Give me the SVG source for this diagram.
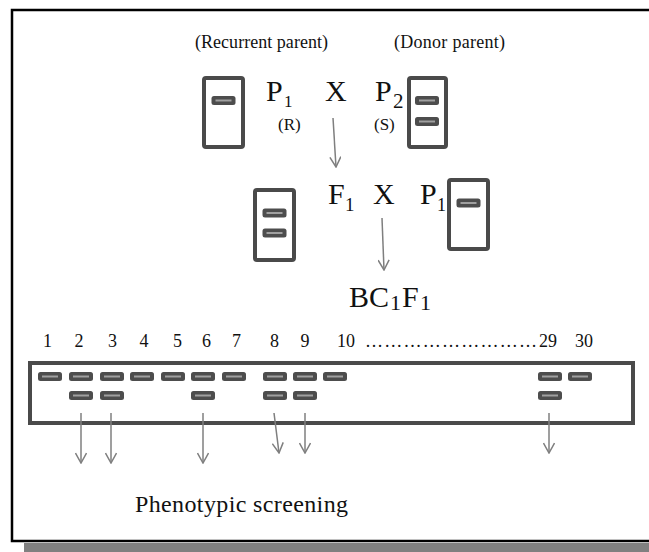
<svg xmlns="http://www.w3.org/2000/svg" xmlns:xlink="http://www.w3.org/1999/xlink" width="649" height="552" viewBox="0 0 649 552">
<style>
  text { font-family: "Liberation Serif", "Times New Roman", serif; fill: #111; }
  .box { fill: #fff; stroke: #4a4a4a; stroke-width: 4; }
  .big { font-size: 30px; }
  .lab { font-size: 18px; }
  .small { font-size: 17px; }
  .num { font-size: 18px; text-anchor: middle; }
  .arr { fill: none; stroke: #7f7f7f; stroke-width: 1.5; marker-end: url(#ah); }
</style>
<defs>
  <marker id="ah" viewBox="0 0 12 12" refX="11" refY="6" markerWidth="12" markerHeight="12" markerUnits="userSpaceOnUse" orient="auto">
    <path d="M1,0.5 L11,6 L1,11.5" fill="none" stroke="#7f7f7f" stroke-width="1.5"/>
  </marker>
  <g id="band">
    <rect x="-12" y="-4.5" width="24" height="9" rx="2.5" fill="#4d4d4d"/>
    <rect x="-8" y="-1" width="16" height="2" fill="#a0a0a0"/>
  </g>
</defs>

<!-- frame with shadow -->
<rect x="24" y="543" width="625" height="9" fill="#808080"/>
<rect x="12" y="10" width="645" height="531" fill="#fff" stroke="#000" stroke-width="2.5"/>

<!-- labels top -->
<g id="labels-top">
  <text class="lab" x="195" y="48" textLength="133" lengthAdjust="spacing">(Recurrent parent)</text>
  <text class="lab" x="394" y="48" textLength="111" lengthAdjust="spacing">(Donor parent)</text>
</g>

<!-- parents -->
<g id="p1-gel">
  <rect class="box" x="204" y="78" width="39" height="69" rx="2"/>
  <use xlink:href="#band" x="223.5" y="100.5"/>
</g>
<g id="p2-gel">
  <rect class="box" x="409" y="78" width="37" height="69" rx="2"/>
  <use xlink:href="#band" x="427" y="100.5"/>
  <use xlink:href="#band" x="427" y="121.5"/>
</g>
<g id="cross1">
  <text class="big" x="266" y="101">P</text>
  <text x="284" y="107" font-size="17">1</text>
  <text class="big" x="325" y="101">X</text>
  <text class="big" x="375" y="101">P</text>
  <text x="393" y="108" font-size="21">2</text>
  <text class="small" x="278" y="130">(R)</text>
  <text class="small" x="374" y="130">(S)</text>
</g>

<!-- F1 cross -->
<g id="f1-gel">
  <rect class="box" x="255" y="190" width="39" height="70" rx="2"/>
  <use xlink:href="#band" x="274.5" y="213"/>
  <use xlink:href="#band" x="274.5" y="233"/>
</g>
<g id="p1b-gel">
  <rect class="box" x="449" y="180" width="39" height="69" rx="2"/>
  <use xlink:href="#band" x="468.5" y="203"/>
</g>
<g id="cross2">
  <text class="big" x="328" y="204">F</text>
  <text x="345" y="211" font-size="19">1</text>
  <text class="big" x="373" y="204">X</text>
  <text class="big" x="420" y="204">P</text>
  <text x="437" y="211" font-size="18">1</text>
</g>

<g id="bc1f1">
  <text font-size="30"><tspan x="349" y="307">BC</tspan><tspan x="390" y="310" font-size="22">1</tspan><tspan x="402" y="307">F</tspan><tspan x="420" y="310" font-size="22">1</tspan></text>
</g>

<!-- lane numbers -->
<g id="lane-numbers">
  <text class="num" x="47.5" y="347">1</text>
  <text class="num" x="79" y="347">2</text>
  <text class="num" x="112.5" y="347">3</text>
  <text class="num" x="144" y="347">4</text>
  <text class="num" x="177.5" y="347">5</text>
  <text class="num" x="206.5" y="347">6</text>
  <text class="num" x="236.5" y="347">7</text>
  <text class="num" x="274.5" y="347">8</text>
  <text class="num" x="305" y="347">9</text>
  <text class="num" x="346" y="347">10</text>
  <text x="365" y="347" font-size="18" textLength="172" lengthAdjust="spacing">………………………</text>
  <text class="num" x="548" y="347">29</text>
  <text class="num" x="584" y="347">30</text>
</g>

<!-- BC1F1 gel -->
<g id="gel">
  <rect class="box" x="30" y="363" width="603" height="60"/>
  <use xlink:href="#band" x="50" y="376.5"/>
  <use xlink:href="#band" x="81" y="376.5"/>
  <use xlink:href="#band" x="112" y="376.5"/>
  <use xlink:href="#band" x="142" y="376.5"/>
  <use xlink:href="#band" x="173" y="376.5"/>
  <use xlink:href="#band" x="203" y="376.5"/>
  <use xlink:href="#band" x="234" y="376.5"/>
  <use xlink:href="#band" x="275" y="376.5"/>
  <use xlink:href="#band" x="305" y="376.5"/>
  <use xlink:href="#band" x="335" y="376.5"/>
  <use xlink:href="#band" x="550" y="376.5"/>
  <use xlink:href="#band" x="580" y="376.5"/>
  <use xlink:href="#band" x="81" y="395.5"/>
  <use xlink:href="#band" x="112" y="395.5"/>
  <use xlink:href="#band" x="203" y="395.5"/>
  <use xlink:href="#band" x="275" y="395.5"/>
  <use xlink:href="#band" x="305" y="395.5"/>
  <use xlink:href="#band" x="550" y="395.5"/>
</g>

<!-- connectors -->
<g id="connectors">
  <line class="arr" x1="333" y1="118" x2="336" y2="167"/>
  <line class="arr" x1="382" y1="218" x2="384" y2="270"/>
  <line class="arr" x1="81" y1="413" x2="81" y2="463"/>
  <line class="arr" x1="111" y1="413" x2="111" y2="463"/>
  <line class="arr" x1="203" y1="413" x2="203" y2="463"/>
  <line class="arr" x1="274" y1="413" x2="279" y2="453"/>
  <line class="arr" x1="305" y1="413" x2="305" y2="453"/>
  <line class="arr" x1="549" y1="413" x2="549" y2="453"/>
</g>

<g id="phenotypic">
  <text x="135" y="512" font-size="24" textLength="213" lengthAdjust="spacing">Phenotypic screening</text>
</g>
</svg>
